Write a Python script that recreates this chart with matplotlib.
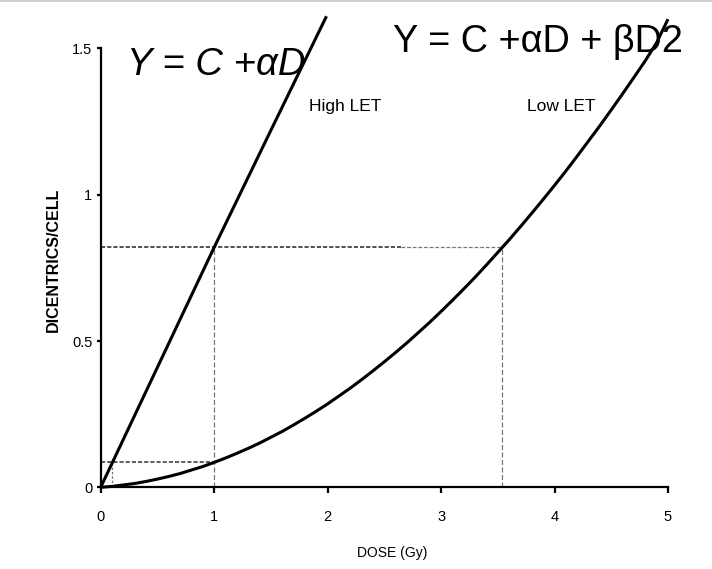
import matplotlib.pyplot as plt

# values
dose_high = [0.0, 0.5, 1.0, 1.5, 1.99]
dic_high = [0.0, 0.41, 0.82, 1.22, 1.61]

dose_low = [0.0, 0.1, 0.2, 0.3, 0.4, 0.5, 0.6, 0.7, 0.8, 0.9, 1.0, 1.1, 1.2, 1.3,
            1.4, 1.5, 1.6, 1.7, 1.8, 1.9, 2.0, 2.1, 2.2, 2.3, 2.4, 2.5, 2.6, 2.7,
            2.8, 2.9, 3.0, 3.1, 3.2, 3.3, 3.4, 3.54, 3.6, 3.7, 3.8, 3.9, 4.0, 4.1,
            4.2, 4.3, 4.4, 4.5, 4.6, 4.7, 4.8, 4.9, 5.0]
dic_low = [0.0, 0.003, 0.008, 0.013, 0.020, 0.028, 0.037, 0.047, 0.059, 0.071,
           0.085, 0.100, 0.116, 0.133, 0.151, 0.171, 0.191, 0.213, 0.236, 0.260,
           0.285, 0.312, 0.339, 0.368, 0.398, 0.429, 0.461, 0.494, 0.529, 0.564,
           0.601, 0.639, 0.678, 0.718, 0.760, 0.820, 0.846, 0.891, 0.937, 0.984,
           1.032, 1.081, 1.132, 1.184, 1.236, 1.290, 1.345, 1.401, 1.458, 1.520,
           1.600]

# reference doses for an equal yield of 0.82 and 0.085 dicentrics/cell
ref_dose_equal = [1.0, 3.54]
ref_yield_high = 0.82
ref_dose_small = [0.097, 1.0]
ref_yield_low = 0.085

x_ticks = [0, 1, 2, 3, 4, 5]
y_ticks = [0, 0.5, 1, 1.5]
y_tick_labels = ["0", "0.5", "1", "1.5"]

plt.rcParams['font.family'] = ['Liberation Sans', 'DejaVu Sans']

fig = plt.figure(figsize=(7.12, 5.69), dpi=100)
ax = fig.add_axes([0.1414, 0.1436, 0.7968, 0.833])

# guide lines
ax.plot([0, 2.65], [ref_yield_high, ref_yield_high], color='#333333',
        lw=1.2, dashes=(2.5, 1.2))
ax.plot([2.65, ref_dose_equal[1]], [ref_yield_high, ref_yield_high],
        color='#777777', lw=0.9, dashes=(3, 1.5))
ax.plot([ref_dose_equal[0], ref_dose_equal[0]], [0, ref_yield_high], color='#777777',
        lw=0.9, dashes=(4, 2))
ax.plot([ref_dose_equal[1], ref_dose_equal[1]], [0, ref_yield_high], color='#777777',
        lw=0.9, dashes=(4, 2))
ax.plot([0, ref_dose_small[1]], [ref_yield_low, ref_yield_low], color='#444444',
        lw=1.2, dashes=(2.5, 1.2))
ax.plot([ref_dose_small[0], ref_dose_small[0]], [0, ref_yield_low], color='#777777',
        lw=0.9, dashes=(2, 1.5))

ax.plot(dose_high, dic_high, color='black', lw=2.2, clip_on=False, solid_capstyle='butt')
ax.plot(dose_low, dic_low, color='black', lw=2.2, clip_on=False, solid_capstyle='butt')

ax.set_xlim(0, 5)
ax.set_ylim(0, 1.62)
for side in ['top', 'right']:
    ax.spines[side].set_visible(False)
ax.spines['left'].set_bounds(0, 1.5)
ax.spines['left'].set_linewidth(1.6)
ax.spines['bottom'].set_linewidth(1.6)

ax.set_xticks(x_ticks)
ax.set_yticks(y_ticks)
ax.set_yticklabels(y_tick_labels)
ax.tick_params(axis='x', length=4, width=1.6, labelsize=10.5, pad=12)
ax.tick_params(axis='y', length=3, width=1.6, labelsize=10.5, pad=3)

ax.set_xlabel("DOSE (Gy)", fontsize=10)
ax.xaxis.set_label_coords(0.5135, -0.124)
ax.set_ylabel("DICENTRICS/CELL", fontsize=11.5, fontweight='bold')
ax.yaxis.set_label_coords(-0.07, 0.48)

ax.text(1.84, 1.30, "High LET", fontsize=12.5, ha='left', va='center')
ax.text(3.76, 1.30, "Low LET", fontsize=12.5, ha='left', va='center')

fig.text(127 / 712, 1 - 75 / 569, "Y = C +αD", fontsize=27.5, fontstyle='italic',
         ha='left', va='baseline')
fig.text(393 / 712, 1 - 52 / 569, "Y = C +αD + βD2", fontsize=27.2,
         ha='left', va='baseline')

# faint border from the screenshot
fig.add_artist(plt.Line2D([0, 1], [0.998, 0.998], color='#d0d0d0', lw=1.5))

fig.savefig("out.png", dpi=100)
